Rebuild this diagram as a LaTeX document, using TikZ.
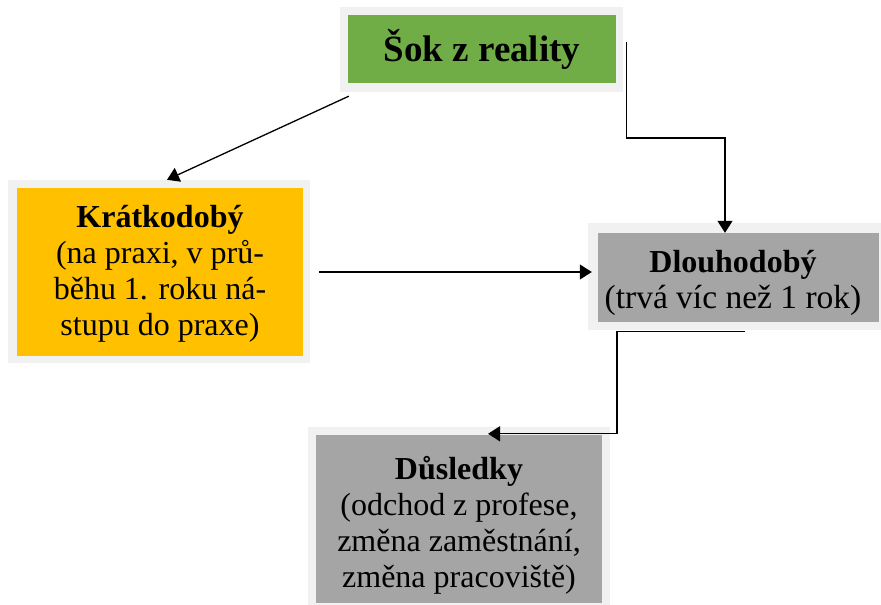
\documentclass[tikz,border=0pt]{standalone}
\usepackage{fontspec}
\setmainfont{Liberation Serif}
\usetikzlibrary{arrows.meta,calc}
\definecolor{framegray}{HTML}{F1F1F1}
\definecolor{okgreen}{HTML}{70AD47}
\definecolor{okorange}{HTML}{FFC000}
\definecolor{okgray}{HTML}{A5A5A5}
\begin{document}
\begin{tikzpicture}[x=1pt,y=-1pt,
  box/.style={inner sep=0pt, align=center, font=\fontsize{32}{36}\selectfont},
  frame/.style={fill=framegray},
  arr/.style={draw=black, line width=1.3pt, -{Triangle[length=12pt,width=15pt]}}]
\useasboundingbox (0,0) rectangle (881,605);
% frames
\fill[frame] (340,7) rectangle (623,92);
\fill[frame] (8,180) rectangle (310,363);
\fill[frame] (588,223) rectangle (881,330);
\fill[frame] (308,427) rectangle (610,605);
% boxes
\node[box, fill=okgreen, minimum width=268pt, minimum height=68pt,
  font=\fontsize{37}{40}\selectfont\bfseries] (sok) at (482,49) {Šok z reality};
\node[box, fill=okorange, minimum width=286pt, minimum height=168pt] (kr) at (160,272) {};
\node[box] at (160,274) {\textbf{Krátkodobý}\\(na praxi, v prů-\\běhu 1. roku ná-\\stupu do praxe)};
\node[box, fill=okgray, minimum width=281pt, minimum height=89pt] (dl) at (738.5,277.5) {};
\node[box] at (733,283) {\textbf{Dlouhodobý}\\{\fontsize{33.5}{36}\selectfont(trvá víc než 1 rok)}};
\node[box, fill=okgray, minimum width=286pt, minimum height=168pt] (ds) at (459,519) {};
\node[box] at (459,525) {\textbf{Důsledky}\\(odchod z profese,\\změna zaměstnání,\\změna pracoviště)};
% connectors
\draw[arr] ($(sok.south west)+(1,13)$) -- ($(kr.north)+(7,-8)$);
\draw[arr] ($(sok.east)+(10,-7)$) -- ++(0,96) -| ($(dl.north)+(-13.5,0)$);
\draw[arr] ($(kr.east)+(16,0)$) -- ($(dl.west |- kr.east)+(-6,0)$);
\draw[arr] ($(dl.south)+(6.5,9)$) -- ++(-128,0) |- ($(ds.north)+(29,-1)$);
\end{tikzpicture}
\end{document}
